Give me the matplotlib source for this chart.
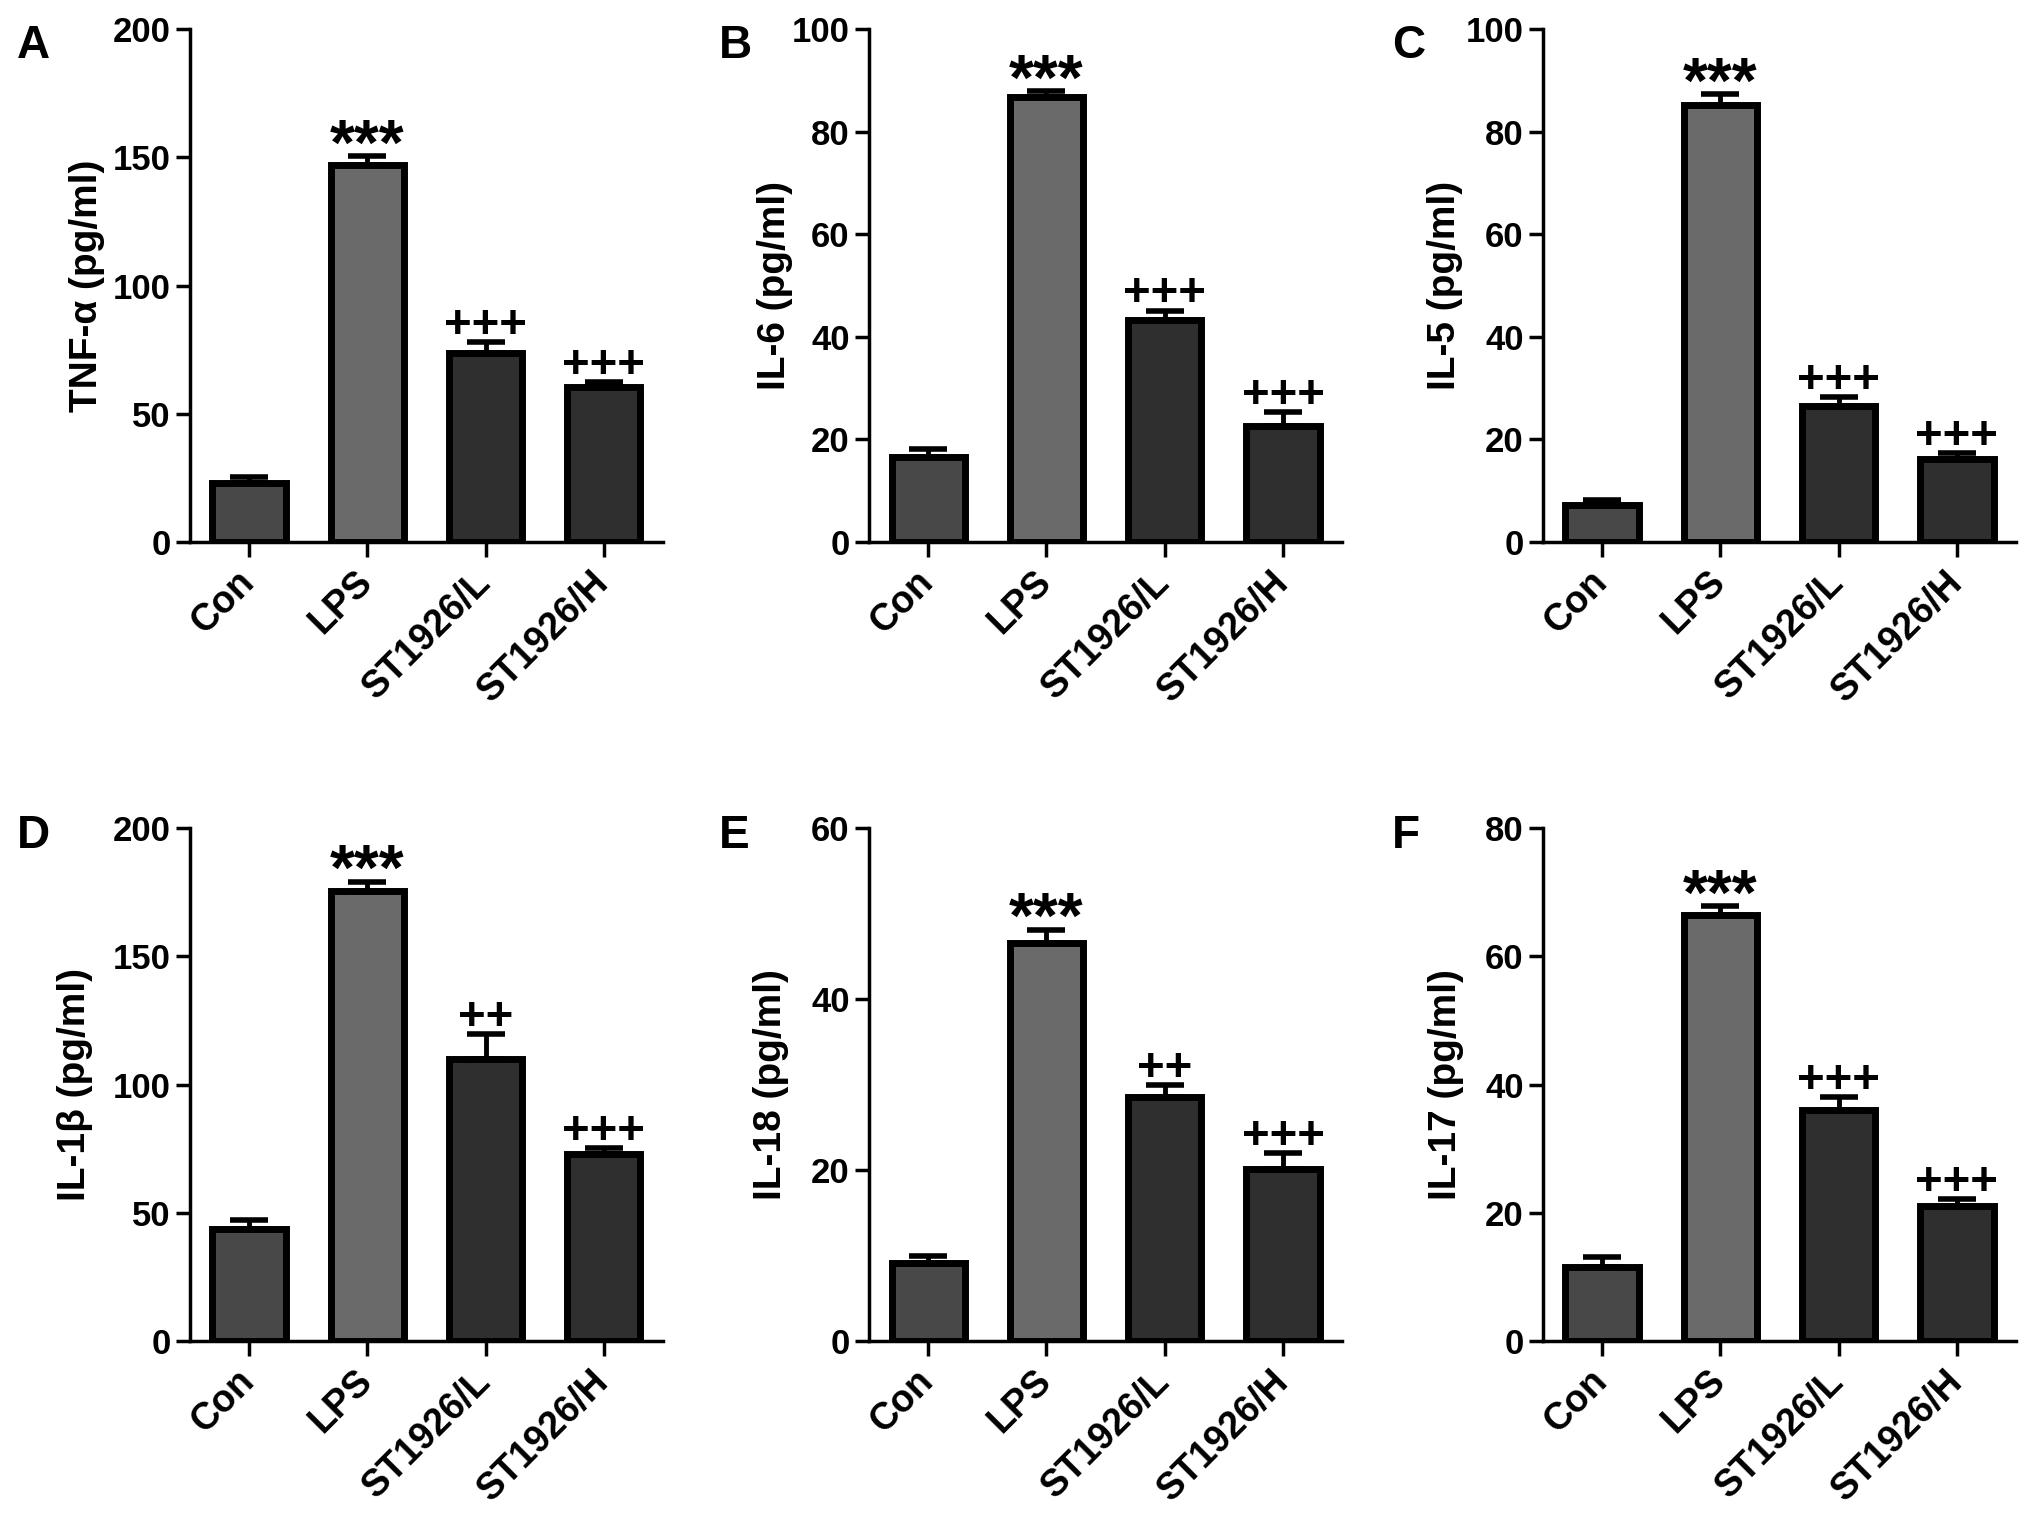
import matplotlib.pyplot as plt

plt.rcParams['font.family'] = ['Liberation Sans', 'DejaVu Sans']
plt.rcParams['font.weight'] = 'bold'

groups = ["Con", "LPS", "ST1926/L", "ST1926/H"]
fills = ["#484848", "#6a6a6a", "#2f2f2f", "#2f2f2f"]

tnf = [23.0, 147.0, 73.5, 60.5]
tnf_err = [2.4, 3.5, 4.6, 2.0]
il6 = [16.5, 86.7, 43.2, 22.6]
il6_err = [1.6, 1.2, 1.9, 2.8]
il5 = [7.2, 85.1, 26.6, 16.1]
il5_err = [0.9, 2.2, 1.6, 1.3]
il1b = [43.8, 175.4, 110.0, 72.8]
il1b_err = [3.2, 3.7, 9.6, 2.4]
il18 = [9.1, 46.6, 28.5, 20.1]
il18_err = [0.9, 1.5, 1.4, 1.9]
il17 = [11.6, 66.5, 36.1, 21.1]
il17_err = [1.5, 1.3, 2.0, 1.0]

sig_a = ["", "***", "+++", "+++"]
sig_b = ["", "***", "++", "+++"]

panels = [
    ("A", "TNF-α (pg/ml)", tnf, tnf_err, sig_a, 200, 50),
    ("B", "IL-6 (pg/ml)", il6, il6_err, sig_a, 100, 20),
    ("C", "IL-5 (pg/ml)", il5, il5_err, sig_a, 100, 20),
    ("D", "IL-1β (pg/ml)", il1b, il1b_err, sig_b, 200, 50),
    ("E", "IL-18 (pg/ml)", il18, il18_err, sig_b, 60, 20),
    ("F", "IL-17 (pg/ml)", il17, il17_err, sig_a, 80, 20),
]

lefts = [0.0935, 0.4279, 0.7597]
bottoms = [0.6448, 0.1212]
label_x = [-0.218, -0.199, -0.207, -0.243, -0.207, -0.205]
letter_x = [0.0084, 0.354, 0.6854]
letter_y = [0.984, 0.4666]

fig = plt.figure(figsize=(20.31, 15.26), dpi=100)

for i, (letter, ylab, vals, errs, sig, top, step) in enumerate(panels):
    row, col = divmod(i, 3)
    ax = fig.add_axes([lefts[col], bottoms[row], 0.2329, 0.3362])
    x = list(range(len(groups)))
    ax.bar(x, vals, width=0.62, color=fills, edgecolor="black",
           linewidth=5, zorder=3)
    ax.errorbar(x, vals, yerr=[[0] * len(vals), errs], fmt="none",
                ecolor="black", elinewidth=3.5, capsize=14, capthick=4,
                zorder=2)
    for xi, v, e, s in zip(x, vals, errs, sig):
        if not s:
            continue
        if "*" in s:
            ax.annotate(s, (xi, v + e), xytext=(0, -6), textcoords="offset points",
                        ha="center", va="baseline", fontsize=46, fontweight="bold")
        else:
            ax.annotate(s, (xi, v + e), xytext=(0, 3), textcoords="offset points",
                        ha="center", va="baseline", fontsize=34, fontweight="bold")

    ax.set_xlim(-0.5, 3.5)
    ax.set_ylim(0, top)
    ax.set_yticks(range(0, top + 1, step))
    ax.set_xticks(x)
    ax.set_xticklabels(groups, rotation=45, ha="right", va="center",
                       rotation_mode="anchor", fontsize=27)
    ax.tick_params(axis="y", labelsize=25, width=2.5, length=10, pad=4)
    ax.tick_params(axis="x", width=2.5, length=11, pad=14)
    for side in ["top", "right"]:
        ax.spines[side].set_visible(False)
    for side in ["left", "bottom"]:
        ax.spines[side].set_linewidth(2.5)
    ax.set_ylabel(ylab, fontsize=28, fontweight="bold", va="center")
    ax.yaxis.set_label_coords(label_x[i], 0.5)

    fig.text(letter_x[col], letter_y[row], letter, fontsize=33,
             fontweight="bold", va="top", ha="left")

fig.savefig("out.png", dpi=100)
